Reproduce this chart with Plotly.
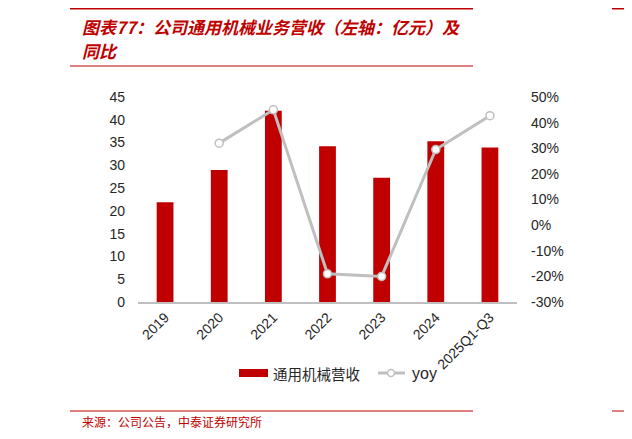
import plotly.graph_objects as go

# Data
years = ["2019", "2020", "2021", "2022", "2023", "2024", "2025Q1-Q3"]
revenue = [21.9, 29.0, 42.0, 34.2, 27.3, 35.3, 33.9]  # 亿元
yoy = [None, 32.0, 45.0, -19.0, -20.0, 29.5, 42.7]  # %
yoy_ticks = [-30, -20, -10, 0, 10, 20, 30, 40, 50]
yoy_tick_labels = ["-30%", "-20%", "-10%", "0%", "10%", "20%", "30%", "40%", "50%"]

TITLE_1 = "图表77：公司通用机械业务营收（左轴：亿元）及"
TITLE_2 = "同比"
SOURCE = "来源：公司公告，中泰证券研究所"

RED = "#c00000"
GREY = "#bfbfbf"
TEXT = "#262626"
CJK = "Noto Sans CJK SC"
LATIN = "Liberation Sans, Arial"

# the page body adds an 8px offset, so positions are shifted back by it
OFF = 8
W, H = 632, 439
PW, PH = 379, 205
M_L, M_T = 138 - OFF, 97 - OFF
M_R, M_B = W - M_L - PW, H - M_T - PH


def px(x):
    return (x - OFF - M_L) / PW


def py(y):
    return (M_T + PH - (y - OFF)) / PH


fig = go.Figure()

fig.add_trace(
    go.Bar(
        x=years,
        y=revenue,
        name="通用机械营收",
        marker={"color": RED, "line": {"width": 0}},
        width=0.31,
        showlegend=False,
    )
)

fig.add_trace(
    go.Scatter(
        x=years,
        y=yoy,
        name="yoy",
        yaxis="y2",
        mode="lines+markers",
        line={"color": GREY, "width": 3},
        marker={"color": "white", "size": 8, "line": {"color": GREY, "width": 1.5}},
        showlegend=False,
    )
)

shapes = [
    # top red rule and title underline
    dict(type="line", xref="paper", yref="paper", x0=px(70), x1=px(473),
         y0=py(8), y1=py(8), line={"color": RED, "width": 3}),
    dict(type="line", xref="paper", yref="paper", x0=px(612), x1=px(640),
         y0=py(8), y1=py(8), line={"color": RED, "width": 3}),
    dict(type="line", xref="paper", yref="paper", x0=px(70), x1=px(473),
         y0=py(66), y1=py(66), line={"color": RED, "width": 1}),
    # source rule
    dict(type="line", xref="paper", yref="paper", x0=px(70), x1=px(473),
         y0=py(411), y1=py(411), line={"color": RED, "width": 1}),
    dict(type="line", xref="paper", yref="paper", x0=px(612), x1=px(640),
         y0=py(411), y1=py(411), line={"color": RED, "width": 1}),
    # manual legend
    dict(type="rect", xref="paper", yref="paper", x0=px(239), x1=px(268),
         y0=py(377), y1=py(369), fillcolor=RED, line={"width": 0}),
    dict(type="line", xref="paper", yref="paper", x0=px(378), x1=px(405),
         y0=py(373), y1=py(373), line={"color": GREY, "width": 3}),
    dict(type="circle", xref="paper", yref="paper", x0=px(387.5), x1=px(394.5),
         y0=py(376.5), y1=py(369.5), fillcolor="white", line={"color": GREY, "width": 1.5}),
]

title_font = {"family": CJK, "size": 17, "color": RED, "weight": "bold", "style": "italic"}

annotations = [
    dict(text=TITLE_1, xref="paper", yref="paper", x=px(80), y=py(27),
         xanchor="left", yanchor="middle", showarrow=False, font=title_font),
    dict(text=TITLE_2, xref="paper", yref="paper", x=px(80), y=py(50),
         xanchor="left", yanchor="middle", showarrow=False, font=title_font),
    dict(text=SOURCE, xref="paper", yref="paper", x=px(80), y=py(421),
         xanchor="left", yanchor="middle", showarrow=False,
         font={"family": CJK, "size": 12, "color": RED}),
    dict(text="通用机械营收", xref="paper", yref="paper", x=px(271), y=py(373),
         xanchor="left", yanchor="middle", showarrow=False,
         font={"family": CJK, "size": 14.5, "color": TEXT}),
    dict(text="yoy", xref="paper", yref="paper", x=px(410), y=py(373),
         xanchor="left", yanchor="middle", showarrow=False,
         font={"family": LATIN, "size": 16, "color": TEXT}),
]

fig.update_layout(
    width=W,
    height=H,
    margin={"l": M_L, "r": M_R, "t": M_T, "b": M_B, "autoexpand": False},
    plot_bgcolor="white",
    paper_bgcolor="white",
    font={"family": LATIN, "size": 13, "color": TEXT},
    showlegend=False,
    shapes=shapes,
    annotations=annotations,
    xaxis={
        "type": "category",
        "tickangle": -45,
        "showgrid": False,
        "showline": True,
        "linecolor": GREY,
        "linewidth": 1.5,
        "ticks": "",
        "tickfont": {"family": LATIN, "size": 14, "color": TEXT},
    },
    yaxis={
        "range": [0, 45],
        "dtick": 5,
        "showgrid": False,
        "zeroline": False,
        "showline": False,
        "ticks": "",
        "ticklabelstandoff": 12,
        "tickfont": {"family": LATIN, "size": 14, "color": TEXT},
    },
    yaxis2={
        "overlaying": "y",
        "side": "right",
        "range": [-30, 50],
        "tickvals": yoy_ticks,
        "ticktext": yoy_tick_labels,
        "showgrid": False,
        "zeroline": False,
        "showline": False,
        "ticks": "",
        "ticklabelstandoff": 13,
        "tickfont": {"family": LATIN, "size": 14, "color": TEXT},
    },
)

fig.write_html("out.html")
